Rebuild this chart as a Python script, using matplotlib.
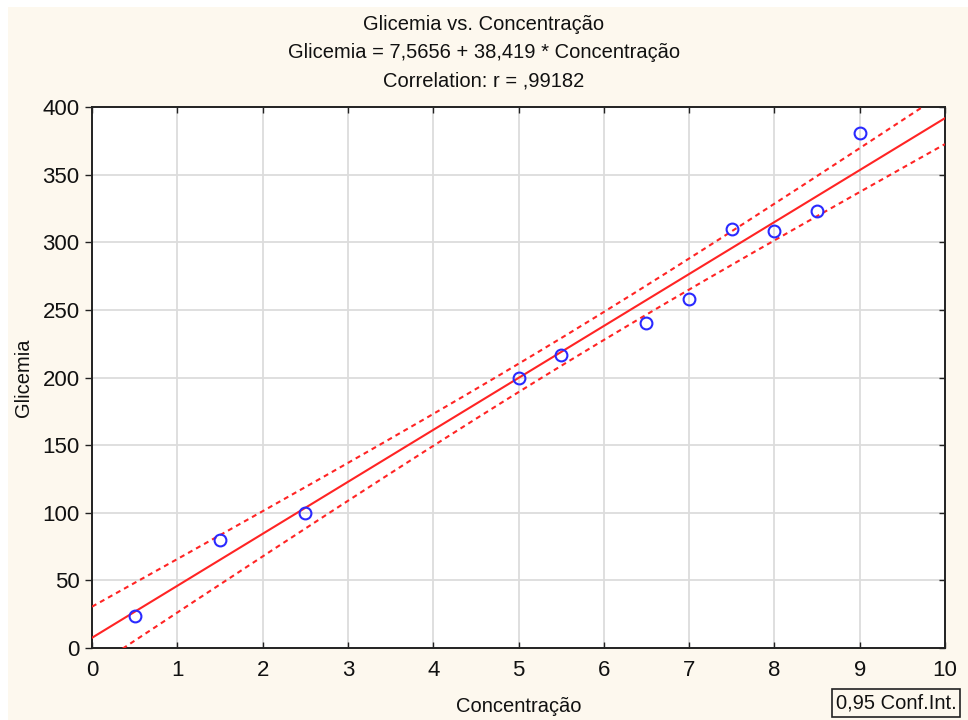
import numpy as np
import matplotlib
matplotlib.use("Agg")
import matplotlib.pyplot as plt
from matplotlib.patches import Rectangle

plt.rcParams['font.family'] = ['Liberation Sans', 'DejaVu Sans']

# Observations
concentracao = [0.5, 1.5, 2.5, 5.0, 5.5, 6.5, 7.0, 7.5, 8.0, 8.5, 9.0]
glicemia = [24, 80, 100, 200, 217, 240, 258, 310, 308, 323, 381]

# Fitted model
intercept = 7.5656
slope = 38.419
t_crit = 2.262  # Student t, 0.975 quantile, 9 d.f.

x_ticks = [0, 1, 2, 3, 4, 5, 6, 7, 8, 9, 10]
y_ticks = [0, 50, 100, 150, 200, 250, 300, 350, 400]

bg = '#FDF8EE'
ink = '#111111'
fig = plt.figure(figsize=(9.68, 7.2), dpi=100, facecolor='white')
# paper background panel
fig.patches.append(Rectangle((8 / 968, 0), 1 - 8 / 968, 1 - 7 / 720,
                             transform=fig.transFigure, facecolor=bg,
                             edgecolor='none', zorder=-10))

ax = fig.add_axes([92 / 968, 1 - 648 / 720, (945 - 92) / 968, (648 - 107) / 720])
ax.set_facecolor('white')

x = np.array(concentracao)
y = np.array(glicemia)
n = len(x)
resid = y - (intercept + slope * x)
s = np.sqrt(np.sum(resid ** 2) / (n - 2))
xm = x.mean()
sxx = np.sum((x - xm) ** 2)

xs = np.linspace(0, 10, 400)
fit = intercept + slope * xs
half = t_crit * s * np.sqrt(1 / n + (xs - xm) ** 2 / sxx)

red = '#FF2424'
ax.plot(xs, fit, color=red, lw=1.5, zorder=3)
ax.plot(xs, fit + half, color=red, lw=1.5, ls=(0, (2.4, 2.0)), zorder=3)
ax.plot(xs, fit - half, color=red, lw=1.5, ls=(0, (2.4, 2.0)), zorder=3)
ax.plot(x, y, 'o', ms=8.5, mfc='none', mec='#2A2AFF', mew=1.5, zorder=4)

ax.set_xlim(0, 10)
ax.set_ylim(0, 400)
ax.set_xticks(x_ticks)
ax.set_yticks(y_ticks)
ax.grid(True, color='#DCDCDC', lw=1.3)
ax.set_axisbelow(True)
for sp in ax.spines.values():
    sp.set_color('#222222')
    sp.set_linewidth(1.4)

ax.tick_params(axis='x', direction='in', top=True, length=4, width=1, labelsize=16,
               pad=9, colors='#222222', labelcolor=ink)
ax.tick_params(axis='y', direction='out', length=5, width=1, labelsize=16,
               pad=4, colors='#222222', labelcolor=ink)
ax.tick_params(axis='y', which='both', right=True)
for t in ax.yaxis.get_ticklines()[1::2]:
    t.set_marker(0)
    t.set_markersize(4)

ax.set_xlabel('Concentração', fontsize=14.5, color=ink)
ax.set_ylabel('Glicemia', fontsize=14.5, color=ink)
ax.xaxis.set_label_coords(0.5, (648 - 707) / (648 - 107), transform=ax.transAxes)
ax.xaxis.label.set_va('center')
ax.yaxis.set_label_coords((24 - 92) / (945 - 92), 0.5, transform=ax.transAxes)
ax.yaxis.label.set_va('center')

fig.text(0.5, 1 - 25 / 720, 'Glicemia vs. Concentração', ha='center', va='center', fontsize=14.5, color=ink)
fig.text(0.5, 1 - 53 / 720, 'Glicemia = 7,5656 + 38,419 * Concentração', ha='center', va='center', fontsize=14.5, color=ink)
fig.text(0.5, 1 - 81 / 720, 'Correlation: r = ,99182', ha='center', va='center', fontsize=14.5, color=ink)

fig.text(896 / 968, 1 - 703 / 720, '0,95 Conf.Int.', ha='center', va='center', fontsize=14.5, color=ink,
         bbox=dict(boxstyle='square,pad=0.2', facecolor=bg, edgecolor='#222222', lw=1.2))

fig.savefig('out.png', dpi=100, facecolor=fig.get_facecolor())
